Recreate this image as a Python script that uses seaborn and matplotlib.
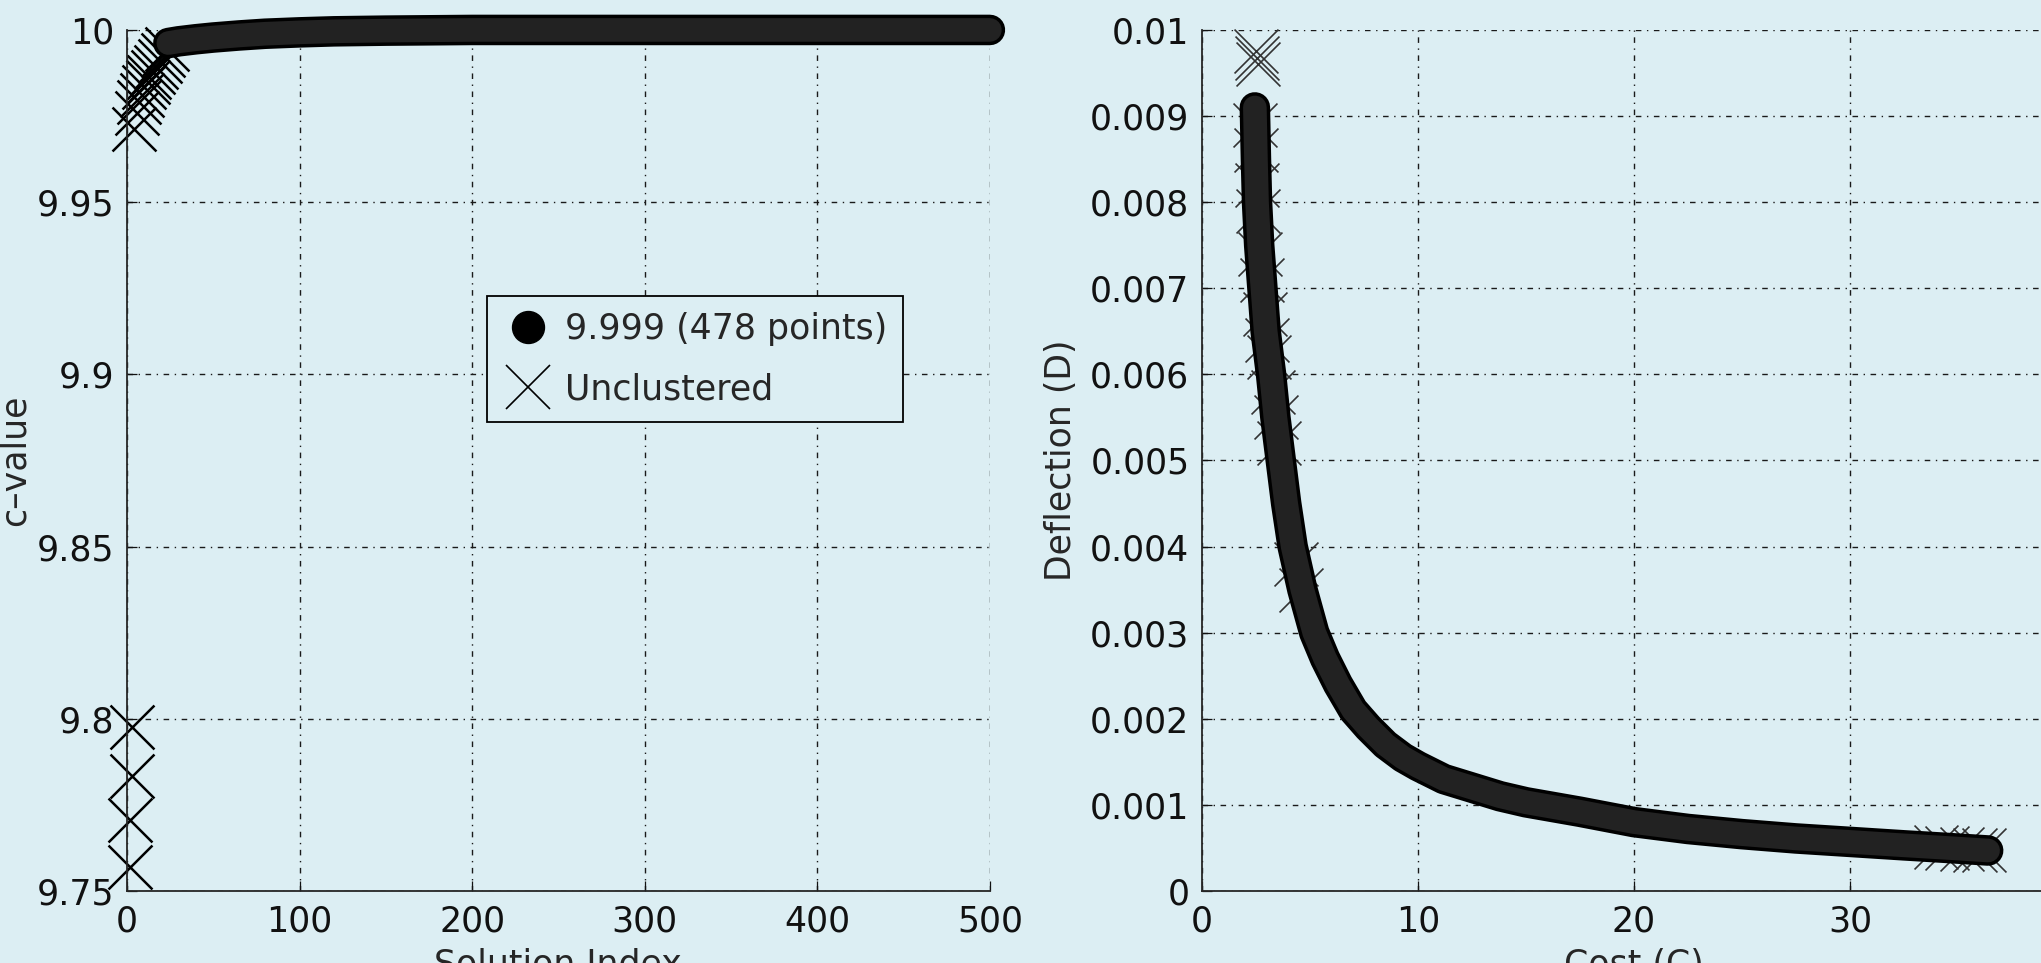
import matplotlib
matplotlib.use("Agg")
import matplotlib.pyplot as plt
from matplotlib.lines import Line2D
import seaborn as sns

# clustered front (c-value vs solution index)
cluster_idx = [24, 30, 40, 50, 65, 80, 100, 120, 150, 200, 300, 400, 500]
cluster_c = [9.9962, 9.9967, 9.9973, 9.9978, 9.9984, 9.9989, 9.9993, 9.9996,
             9.9998, 10.0, 10.0, 10.0, 10.0]

# unclustered solutions (left panel)
uncl_idx = [4, 6, 7, 9, 10, 12, 13, 15, 17, 19, 21, 23, 3, 3, 2, 2]
uncl_c = [9.9712, 9.9760, 9.9790, 9.9812, 9.9835, 9.9850, 9.9862, 9.9878,
          9.9893, 9.9910, 9.9928, 9.9945, 9.7977, 9.7835, 9.7707, 9.7571]

# pareto front (deflection vs cost)
front_cost = [2.45, 2.5, 2.55, 2.65, 2.8, 2.95, 3.2, 3.4, 3.65, 3.9, 4.2, 4.65,
              5.2, 5.7, 6.3, 7.0, 7.7, 8.5, 9.3, 10.0, 11.2, 12.5, 13.8, 15.0,
              17.5, 20.0, 22.5, 25.0, 27.5, 30.0, 32.5, 34.5, 36.4]
front_defl = [0.0091, 0.0085, 0.0080, 0.0075, 0.0070, 0.0065, 0.0060, 0.0055,
              0.0050, 0.0045, 0.0040, 0.0035, 0.0030, 0.0027, 0.0024, 0.0021,
              0.0019, 0.0017, 0.00155, 0.00145, 0.00130, 0.00120, 0.00110,
              0.00103, 0.00092, 0.00080, 0.00072, 0.00066, 0.00061, 0.00057,
              0.00053, 0.00050, 0.00047]

# unclustered solutions (right panel)
uncl_cost = [2.5, 2.55, 2.6, 2.45, 2.5, 2.55, 2.6, 2.7, 2.8, 2.9, 3.0, 3.1, 3.3,
             3.45, 3.55, 4.35, 4.6, 34.0, 34.5, 35.2, 35.8, 36.2]
uncl_defl = [0.00975, 0.00968, 0.0096, 0.0089, 0.0086, 0.0082, 0.0079, 0.0074,
             0.0071, 0.0067, 0.0064, 0.0062, 0.0058, 0.0055, 0.0052, 0.0038,
             0.0035, 0.00051, 0.00050, 0.00049, 0.00048, 0.00047]

left_xticks = [0, 100, 200, 300, 400, 500]
left_yticks = [9.75, 9.8, 9.85, 9.9, 9.95, 10]
left_ylabels = ["9.75", "9.8", "9.85", "9.9", "9.95", "10"]
right_xticks = [0, 10, 20, 30, 40]
right_yticks = [0, 0.001, 0.002, 0.003, 0.004, 0.005, 0.006, 0.007, 0.008, 0.009, 0.01]
right_ylabels = ["0", "0.001", "0.002", "0.003", "0.004", "0.005", "0.006",
                 "0.007", "0.008", "0.009", "0.01"]

BG = "#DCEEF3"
FS = 25

sns.set_style("ticks")
plt.rcParams["font.family"] = ["DejaVu Sans"]
plt.rcParams["axes.facecolor"] = BG
plt.rcParams["figure.facecolor"] = BG

fig = plt.figure(figsize=(20.41, 9.63), dpi=100)
ax1 = fig.add_axes([0.0622, 0.0748, 0.4228, 0.8941])
ax2 = fig.add_axes([0.5889, 0.0748, 0.4233, 0.8941])


def thick_front(ax, x, y):
    # 478 big markers merge into one thick stroke in the original
    sns.lineplot(x=x, y=y, ax=ax, color="black", linewidth=22, estimator=None,
                 sort=False, solid_capstyle="round", solid_joinstyle="round",
                 clip_on=False, zorder=3)
    sns.lineplot(x=x, y=y, ax=ax, color="#222222", linewidth=17, estimator=None,
                 sort=False, solid_capstyle="round", solid_joinstyle="round",
                 clip_on=False, zorder=3)


def style_axes(ax, xticks, yticks, ylabels, xlim, ylim):
    ax.set_xlim(*xlim)
    ax.set_ylim(*ylim)
    ax.set_xticks(xticks)
    ax.set_xticklabels([str(t) for t in xticks])
    ax.set_yticks(yticks)
    ax.set_yticklabels(ylabels)
    ax.tick_params(direction="in", length=7.5, width=0.9, labelsize=FS,
                   colors="#111111", pad=9)
    ax.tick_params(axis="x", pad=10)
    for s in ["top", "right"]:
        ax.spines[s].set_visible(False)
    for s in ["left", "bottom"]:
        ax.spines[s].set_linewidth(1.3)
        ax.spines[s].set_color("#262626")
    ax.grid(True, color="#1a1a1a", linewidth=1.0, linestyle=(0, (4, 4, 1, 4)))
    ax.set_axisbelow(True)


# left panel
thick_front(ax1, cluster_idx, cluster_c)
sns.scatterplot(x=uncl_idx, y=uncl_c, ax=ax1, marker="x", s=1000, color="black",
                linewidth=1.8, clip_on=False, zorder=2)
style_axes(ax1, left_xticks, left_yticks, left_ylabels, (0, 500), (9.75, 10))
ax1.set_xlabel("Solution Index", fontsize=FS)
ax1.set_ylabel("c\u2013value", fontsize=FS)
ax1.xaxis.set_label_coords(0.5, -0.066)
ax1.yaxis.set_label_coords(-0.110, 0.5)

handles = [
    Line2D([], [], marker="o", color="black", linestyle="none", markersize=23,
           label="9.999 (478 points)"),
    Line2D([], [], marker="x", color="black", linestyle="none", markersize=31,
           markeredgewidth=1.2, label="Unclustered"),
]
leg = ax1.legend(handles=handles, loc="upper left", bbox_to_anchor=(0.417, 0.6906),
                 borderaxespad=0, fancybox=False, edgecolor="black", facecolor=BG,
                 framealpha=1, fontsize=FS, handletextpad=0.3, borderpad=0.45,
                 labelspacing=0.75, handlelength=1.5)
leg.get_frame().set_linewidth(1.3)

# right panel
sns.scatterplot(x=uncl_cost, y=uncl_defl, ax=ax2, marker="x", s=1000,
                color="#333333", linewidth=1.2, clip_on=False, zorder=2)
thick_front(ax2, front_cost, front_defl)
style_axes(ax2, right_xticks, right_yticks, right_ylabels, (0, 40), (0, 0.01))
ax2.set_xlabel("Cost (C)", fontsize=FS)
ax2.set_ylabel("Deflection (D)", fontsize=FS)
ax2.xaxis.set_label_coords(0.5, -0.066)
ax2.yaxis.set_label_coords(-0.1435, 0.5)

fig.savefig("out.png", dpi=100, facecolor=BG)
